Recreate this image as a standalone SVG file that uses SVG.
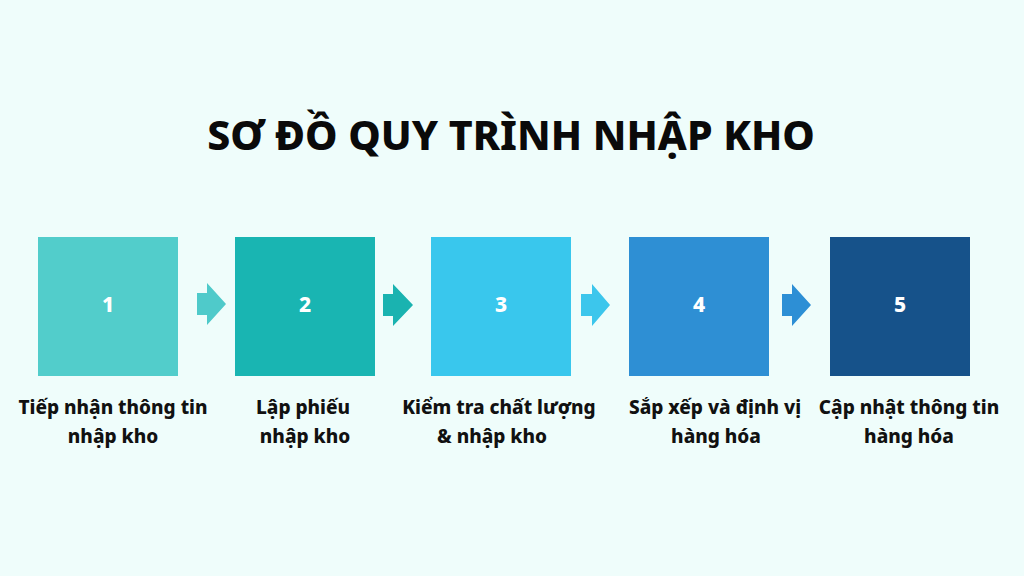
<svg xmlns="http://www.w3.org/2000/svg" width="1024" height="576" viewBox="0 0 1024 576">
<style>
.title{font-family:"Noto Sans","Open Sans","Liberation Sans",sans-serif;font-weight:800;font-size:41px;fill:#0a0a0a;text-anchor:middle}
.num{font-family:"Noto Sans","Open Sans","Liberation Sans",sans-serif;font-weight:800;font-size:21px;fill:#ffffff;text-anchor:middle}
.lbl{font-family:"Noto Sans","Open Sans","Liberation Sans",sans-serif;font-weight:800;font-size:19px;fill:#111111;text-anchor:middle}
</style>
<rect width="1024" height="576" fill="#effdfb"/>
<text class="title" x="511" y="150">SƠ ĐỒ QUY TRÌNH NHẬP KHO</text>
<g id="connectors">
<polygon points="197,293 207,293 207,283 226,304 207,325 207,315 197,315" fill="#4fcaca"/>
<polygon points="383,294 393,294 393,284 413,305 393,326 393,316 383,316" fill="#1ab3b0"/>
<polygon points="581,294 592,294 592,284 610,305 592,326 592,316 581,316" fill="#3cc6ec"/>
<polygon points="782,294 792,294 792,284 811,305 792,326 792,316 782,316" fill="#2d8fd5"/>
</g>
<g id="node1">
<rect x="38" y="237" width="140" height="139" fill="#52cdcb"/>
<text class="num" x="108" y="312">1</text>
<text class="lbl" x="113" y="414">Tiếp nhận thông tin</text>
<text class="lbl" x="113" y="443">nhập kho</text>
</g>
<g id="node2">
<rect x="235" y="237" width="140" height="139" fill="#19b5b2"/>
<text class="num" x="305" y="312">2</text>
<text class="lbl" x="303" y="414">Lập phiếu</text>
<text class="lbl" x="305" y="443">nhập kho</text>
</g>
<g id="node3">
<rect x="431" y="237" width="140" height="139" fill="#39c7ed"/>
<text class="num" x="501" y="312">3</text>
<text class="lbl" x="499" y="414">Kiểm tra chất lượng</text>
<text class="lbl" x="492" y="443">&amp; nhập kho</text>
</g>
<g id="node4">
<rect x="629" y="237" width="140" height="139" fill="#2e8fd4"/>
<text class="num" x="699" y="312">4</text>
<text class="lbl" x="715" y="414">Sắp xếp và định vị</text>
<text class="lbl" x="716" y="443">hàng hóa</text>
</g>
<g id="node5">
<rect x="830" y="237" width="140" height="139" fill="#16528a"/>
<text class="num" x="900" y="312">5</text>
<text class="lbl" x="909" y="414">Cập nhật thông tin</text>
<text class="lbl" x="909" y="443">hàng hóa</text>
</g>
</svg>
